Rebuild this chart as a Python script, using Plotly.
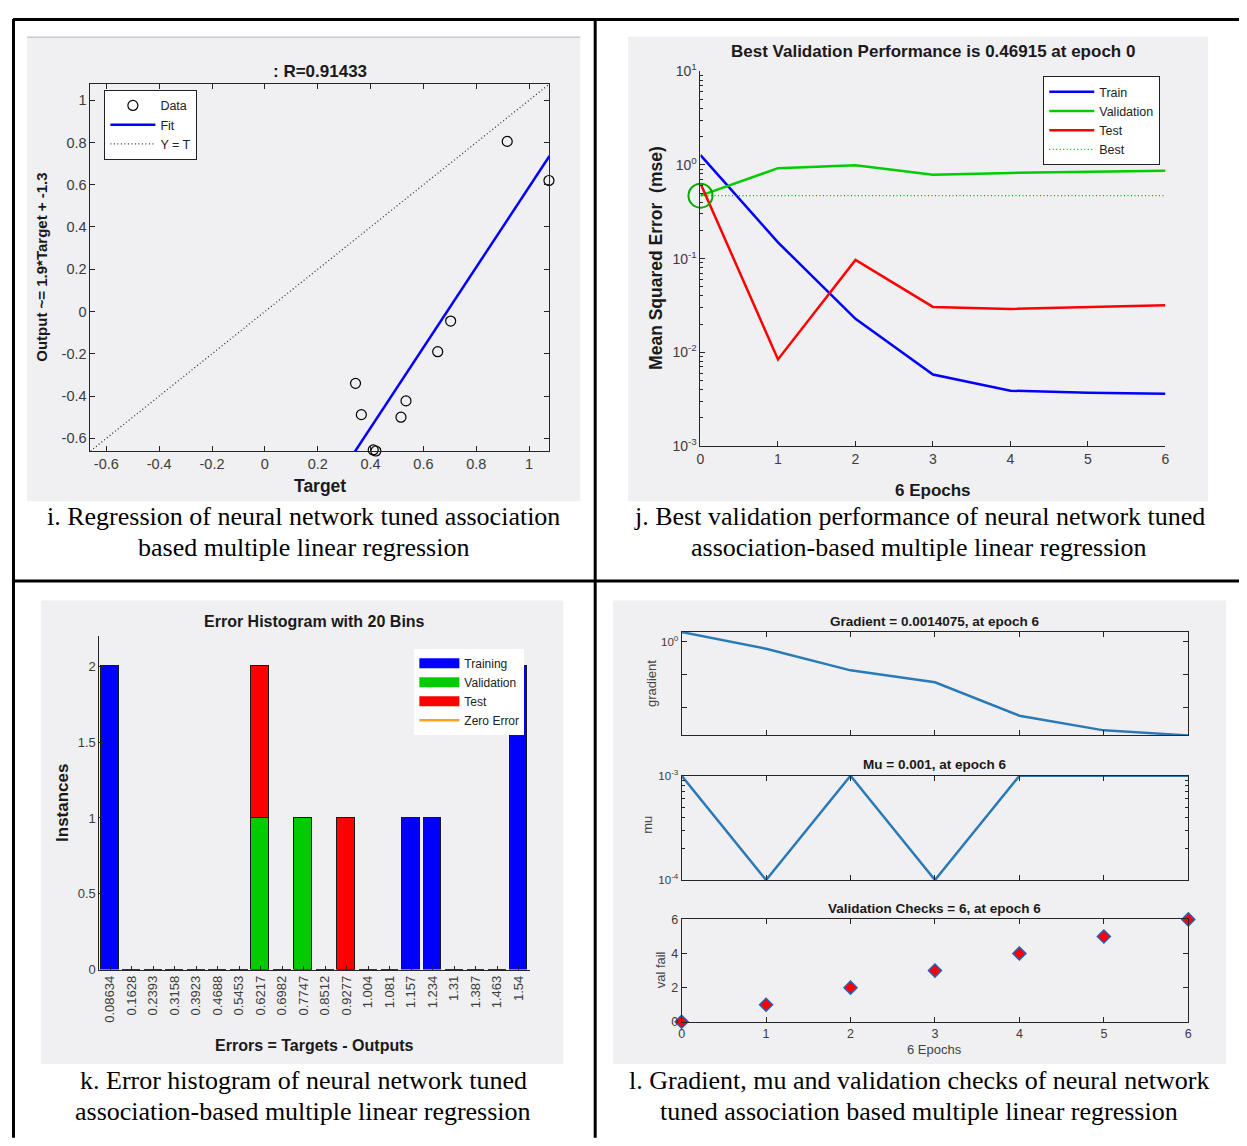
import plotly.graph_objects as go
import numpy as np

# page is 1247 x 1146; the browser body keeps an 8px margin, so the figure is 16px smaller
PAGE_W, PAGE_H = 1247, 1146
OFF = 8
W, H = PAGE_W - 2 * OFF, PAGE_H - 2 * OFF

# ---------------- Panel i : regression ----------------
reg_target = [0.917, 1.075, 0.703, 0.654, 0.343, 0.534, 0.365, 0.515, 0.41, 0.42]
reg_output = [0.805, 0.62, -0.045, -0.19, -0.34, -0.423, -0.488, -0.50, -0.655, -0.66]
fit_slope = 1.9
fit_intercept = -1.31
reg_range = [-0.66, 1.077]
reg_ticks = [-0.6, -0.4, -0.2, 0, 0.2, 0.4, 0.6, 0.8, 1]
reg_tick_labels = ["-0.6", "-0.4", "-0.2", "0", "0.2", "0.4", "0.6", "0.8", "1"]

# ---------------- Panel j : performance ----------------
epochs = [0, 1, 2, 3, 4, 5, 6]
perf_train = [1.27, 0.149, 0.0228, 0.0058, 0.0039, 0.0037, 0.00362]
perf_val = [0.46915, 0.923, 0.99, 0.786, 0.82, 0.845, 0.866]
perf_test = [0.633, 0.0084, 0.0968, 0.0305, 0.029, 0.0302, 0.0318]
best_perf = 0.46915
best_epoch = 0
perf_ticks = [1e-3, 1e-2, 1e-1, 1, 10]
perf_tick_labels = ["10<sup>-3</sup>", "10<sup>-2</sup>", "10<sup>-1</sup>", "10<sup>0</sup>", "10<sup>1</sup>"]

# ---------------- Panel k : error histogram ----------------
hist_bin_labels = ["0.08634", "0.1628", "0.2393", "0.3158", "0.3923", "0.4688", "0.5453",
                   "0.6217", "0.6982", "0.7747", "0.8512", "0.9277", "1.004", "1.081",
                   "1.157", "1.234", "1.31", "1.387", "1.463", "1.54"]
hist_training = [2, 0, 0, 0, 0, 0, 0, 0, 0, 0, 0, 0, 0, 0, 1, 1, 0, 0, 0, 2]
hist_validation = [0, 0, 0, 0, 0, 0, 0, 1, 0, 1, 0, 0, 0, 0, 0, 0, 0, 0, 0, 0]
hist_test = [0, 0, 0, 0, 0, 0, 0, 1, 0, 0, 0, 1, 0, 0, 0, 0, 0, 0, 0, 0]
zero_error = 0.0
hist_yticks = [0, 0.5, 1, 1.5, 2]
hist_ytick_labels = ["0", "0.5", "1", "1.5", "2"]

# ---------------- Panel l : training state ----------------
gradient = [1.96, 0.61, 0.134, 0.058, 0.0056, 0.0020, 0.0014075]
mu = [1e-3, 1e-4, 1e-3, 1e-4, 1e-3, 1e-3, 1e-3]
val_fail = [0, 1, 2, 3, 4, 5, 6]

captions = {
    "i": ["i. Regression of neural network tuned association", "based multiple linear regression"],
    "j": ["j. Best validation performance of neural network tuned", "association-based multiple linear regression"],
    "k": ["k. Error histogram of neural network tuned", "association-based multiple linear regression"],
    "l": ["l. Gradient, mu and validation checks of neural network", "tuned association based multiple linear regression"],
}


def X(px):
    return (px - OFF) / W


def Y(py):
    return 1 - (py - OFF) / H


SANS = "Liberation Sans, Arial, Helvetica, sans-serif"
SERIF = "Liberation Serif, Times New Roman, serif"
AX = "#262626"
TICK = "#3c3c3c"

fig = go.Figure()

# ---- panel i traces
fig.add_trace(go.Scatter(x=reg_target, y=reg_output, mode="markers", name="Data",
                         marker=dict(symbol="circle-open", size=10, color="black", line=dict(width=1.2)),
                         xaxis="x", yaxis="y", legend="legend", cliponaxis=False))
fx = np.array(reg_range)
fig.add_trace(go.Scatter(x=fx, y=fit_slope * fx + fit_intercept, mode="lines", name="Fit",
                         line=dict(color="#0000ff", width=2.5), xaxis="x", yaxis="y", legend="legend"))
fig.add_trace(go.Scatter(x=reg_range, y=reg_range, mode="lines", name="Y = T",
                         line=dict(color="#333333", width=1.3, dash="1px,2.5px"), xaxis="x", yaxis="y", legend="legend"))

# ---- panel j traces
fig.add_trace(go.Scatter(x=epochs, y=perf_train, mode="lines", name="Train",
                         line=dict(color="#0000ff", width=2.5), xaxis="x2", yaxis="y2", legend="legend2"))
fig.add_trace(go.Scatter(x=epochs, y=perf_val, mode="lines", name="Validation",
                         line=dict(color="#00cc00", width=2.5), xaxis="x2", yaxis="y2", legend="legend2"))
fig.add_trace(go.Scatter(x=epochs, y=perf_test, mode="lines", name="Test",
                         line=dict(color="#ff0000", width=2.5), xaxis="x2", yaxis="y2", legend="legend2"))
fig.add_trace(go.Scatter(x=[epochs[0], epochs[-1]], y=[best_perf, best_perf], mode="lines", name="Best",
                         line=dict(color="#00aa00", width=1.3, dash="1px,2.5px"), xaxis="x2", yaxis="y2", legend="legend2"))
fig.add_trace(go.Scatter(x=[best_epoch], y=[best_perf], mode="markers", showlegend=False,
                         marker=dict(symbol="circle-open", size=24, color="#00aa00", line=dict(width=2)),
                         xaxis="x2", yaxis="y2", cliponaxis=False, legend="legend2"))

# ---- panel k traces
centers = [float(v) for v in hist_bin_labels]
bw = (centers[-1] - centers[0]) / (len(centers) - 1)
hist_series = [("Training", hist_training, "#0000ff"),
               ("Validation", hist_validation, "#00cc00"),
               ("Test", hist_test, "#ff0000")]
for name, vals, col in hist_series:
    fig.add_trace(go.Bar(x=centers, y=vals, name=name, width=bw * 0.82, showlegend=False,
                         legendgroup=name, legend="legend3",
                         marker=dict(color=col, line=dict(color="#1a1a1a", width=1)),
                         xaxis="x3", yaxis="y3"))
# wide patch legend keys (as in MATLAB's histogram legend)
for name, vals, col in hist_series:
    fig.add_trace(go.Scatter(x=[None], y=[None], mode="lines", name=name, legendgroup=name,
                             line=dict(color=col, width=14), xaxis="x3", yaxis="y3", legend="legend3"))
fig.add_trace(go.Scatter(x=[zero_error, zero_error], y=[0, 2.2], mode="lines", name="Zero Error",
                         line=dict(color="#ffa31a", width=2.5), xaxis="x3", yaxis="y3", legend="legend3"))

# ---- panel l traces
fig.add_trace(go.Scatter(x=epochs, y=gradient, mode="lines", showlegend=False,
                         line=dict(color="#2a7ab8", width=2.5), xaxis="x4", yaxis="y4", legend="legend2"))
fig.add_trace(go.Scatter(x=epochs, y=mu, mode="lines", showlegend=False,
                         line=dict(color="#2a7ab8", width=2.5), xaxis="x5", yaxis="y5", cliponaxis=False,
                         legend="legend2"))
fig.add_trace(go.Scatter(x=epochs, y=val_fail, mode="markers", showlegend=False,
                         marker=dict(symbol="diamond", size=10, color="#ff0000", line=dict(color="#2a5fb8", width=1.5)),
                         xaxis="x6", yaxis="y6", cliponaxis=False, legend="legend2"))


def axis(size=14, **kw):
    d = dict(showline=True, linecolor=AX, linewidth=1, ticks="inside", tickcolor=AX, ticklen=5,
             showgrid=False, zeroline=False, fixedrange=True,
             tickfont=dict(family=SANS, size=size, color=TICK))
    d.update(kw)
    return d


layout = dict(
    width=W, height=H, margin=dict(l=0, r=0, t=0, b=0),
    paper_bgcolor="white", plot_bgcolor="white", font=dict(family=SANS, color="#222"),
    barmode="stack", bargap=0,
    # panel i
    xaxis=axis(14.5, domain=[X(87), X(549)], anchor="y", range=reg_range, mirror="ticks",
               tickmode="array", tickvals=reg_ticks, ticktext=reg_tick_labels),
    yaxis=axis(14.5, domain=[Y(448), Y(75)], anchor="x", range=reg_range, mirror="ticks",
               tickmode="array", tickvals=reg_ticks, ticktext=reg_tick_labels),
    # panel j
    xaxis2=axis(14, domain=[X(701), X(1169)], anchor="y2", range=[0, 6], tickmode="array",
                tickvals=epochs, ticktext=[str(e) for e in epochs]),
    yaxis2=axis(14, domain=[Y(443), Y(62)], anchor="x2", type="log", range=[-3, 1], tickmode="array",
                tickvals=perf_ticks, ticktext=perf_tick_labels,
                minor=dict(ticks="inside", ticklen=3, tickcolor=AX, dtick="D1")),
    # panel k
    xaxis3=axis(13, domain=[X(96), X(529)], anchor="y3", range=[centers[0] - bw / 2, centers[-1] + bw / 2],
                tickmode="array", tickvals=centers, ticktext=hist_bin_labels, tickangle=-90, ticklen=4),
    yaxis3=axis(13, domain=[Y(975), Y(636)], anchor="x3", range=[0, 2.2], tickmode="array",
                tickvals=hist_yticks, ticktext=hist_ytick_labels, ticklen=4),
    # panel l
    xaxis4=axis(12, domain=[X(682), X(1192)], anchor="y4", range=[0, 6], mirror="ticks", tickmode="array",
                tickvals=epochs, showticklabels=False),
    yaxis4=axis(11.5, domain=[Y(737), Y(632)], anchor="x4", type="log",
                range=[np.log10(min(gradient)), np.log10(max(gradient))], mirror="ticks", tickmode="array",
                tickvals=[1, 0.1, 0.01], ticktext=["10<sup>0</sup>", "", ""]),
    xaxis5=axis(12, domain=[X(682), X(1192)], anchor="y5", range=[0, 6], mirror="ticks", tickmode="array",
                tickvals=epochs, showticklabels=False),
    yaxis5=axis(11.5, domain=[Y(884), Y(778)], anchor="x5", type="log",
                range=[np.log10(min(mu)), np.log10(max(mu))], mirror="ticks", tickmode="array",
                tickvals=[1e-4, 1e-3], ticktext=["10<sup>-4</sup>", "10<sup>-3</sup>"],
                minor=dict(ticks="inside", ticklen=3, tickcolor=AX, dtick="D1")),
    xaxis6=axis(12.5, domain=[X(682), X(1192)], anchor="y6", range=[0, 6], mirror="ticks", tickmode="array",
                tickvals=epochs, ticktext=[str(e) for e in epochs]),
    yaxis6=axis(12.5, domain=[Y(1028), Y(924)], anchor="x6", range=[0, 6], mirror="ticks", tickmode="array",
                tickvals=[0, 2, 4, 6], ticktext=["0", "2", "4", "6"]),
    legend=dict(x=X(101), y=Y(81), xanchor="left", yanchor="top", bgcolor="white",
                bordercolor="#222", borderwidth=1, font=dict(family=SANS, size=12.5, color="#222"),
                itemwidth=45, tracegroupgap=0, traceorder="normal"),
    legend2=dict(x=X(1046), y=Y(67), xanchor="left", yanchor="top", bgcolor="white",
                 bordercolor="#222", borderwidth=1, font=dict(family=SANS, size=12.5, color="#222"),
                 itemwidth=45, tracegroupgap=0, traceorder="normal"),
    legend3=dict(x=X(413), y=Y(649), xanchor="left", yanchor="top", bgcolor="white",
                 borderwidth=0, font=dict(family=SANS, size=12, color="#222"),
                 itemwidth=40, tracegroupgap=0, traceorder="normal"),
)
fig.update_layout(**layout)

# ---- background shapes: gray panels and table borders
shapes = []
for (x0, y0, x1, y1) in [(23, 27, 580, 499), (628, 27, 1212, 499), (37, 600, 563, 1071), (613, 600, 1230, 1071)]:
    shapes.append(dict(type="rect", xref="paper", yref="paper", x0=X(x0), x1=X(x1), y0=Y(y1), y1=Y(y0),
                       fillcolor="#f0eff1", line=dict(width=0), layer="below"))
shapes.append(dict(type="line", xref="paper", yref="paper", x0=X(23), x1=X(580), y0=Y(27.5), y1=Y(27.5),
                   line=dict(color="#cccccc", width=1.5), layer="below"))
for (x0, y0, x1, y1) in [(9, 9.5, PAGE_W, 9.5), (9, 580, PAGE_W, 580), (9.5, 9, 9.5, PAGE_H), (595, 9, 595, PAGE_H)]:
    shapes.append(dict(type="line", xref="paper", yref="paper", x0=X(x0), x1=X(x1), y0=Y(y0), y1=Y(y1),
                       line=dict(color="black", width=3), layer="above"))
fig.update_layout(shapes=shapes)

# ---- annotations: titles, axis labels, captions
ann = []


def text(s, x, y, size, bold=False, angle=0, color="#1a1a1a", family=SANS):
    ann.append(dict(text=("<b>%s</b>" % s) if bold else s, x=X(x), y=Y(y), xref="paper", yref="paper",
                    showarrow=False, xanchor="center", yanchor="middle", textangle=angle,
                    font=dict(family=family, size=size, color=color)))


# panel i
text(": R=0.91433", 318, 62, 17, bold=True)
text("Target", 318, 484, 17.5, bold=True)
text("Output ~= 1.9*Target + -1.3", 38, 261, 15, bold=True, angle=-90)
# panel j
text("Best Validation Performance is 0.46915 at epoch 0", 935, 42, 17, bold=True)
text("6 Epochs", 935, 488, 17, bold=True)
text("Mean Squared Error  (mse)", 656, 252, 17.5, bold=True, angle=-90)
# panel k
text("Error Histogram with 20 Bins", 312, 621, 16, bold=True)
text("Errors = Targets - Outputs", 312, 1052, 16, bold=True)
text("Instances", 59, 806, 17, bold=True, angle=-90)
# panel l
text("Gradient = 0.0014075, at epoch 6", 937, 621, 13.5, bold=True)
text("Mu = 0.001, at epoch 6", 937, 767, 13.5, bold=True)
text("Validation Checks = 6, at epoch 6", 937, 913, 13.5, bold=True)
text("6 Epochs", 937, 1056, 13, color="#444")
text("gradient", 651, 684, 13, angle=-90, color="#444")
text("mu", 648, 828, 13, angle=-90, color="#444")
text("val fail", 661, 975, 13, angle=-90, color="#444")
# captions
for key, cx, y1 in [("i", 301, 515), ("j", 921, 515), ("k", 301, 1088), ("l", 921, 1088)]:
    text(captions[key][0], cx, y1, 26, color="black", family=SERIF)
    text(captions[key][1], cx, y1 + 31, 26, color="black", family=SERIF)

fig.update_layout(annotations=ann)

fig.write_html("out.html", config={"displayModeBar": False})
